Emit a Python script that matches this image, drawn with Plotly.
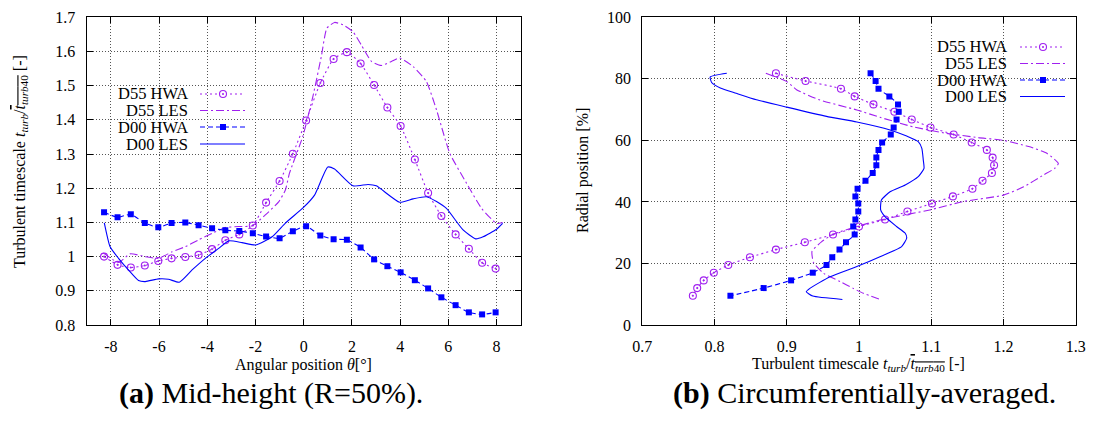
import plotly.graph_objects as go

# ---------------- data: (a) mid-height ----------------
theta_hwa = [-8.28, -7.72, -7.17, -6.59, -6.03, -5.48, -4.91, -4.36, -3.80, -3.25,
             -2.67, -2.11, -1.56, -1.00, -0.45, 0.10, 0.69, 1.24, 1.79, 2.36,
             2.92, 3.47, 4.02, 4.61, 5.16, 5.71, 6.30, 6.85, 7.40, 7.96]
d55_hwa_mid = [1.000, 0.976, 0.968, 0.974, 0.987, 0.995, 0.999, 1.005, 1.022, 1.048,
               1.065, 1.091, 1.158, 1.221, 1.301, 1.398, 1.508, 1.578, 1.598, 1.565,
               1.502, 1.436, 1.382, 1.284, 1.186, 1.119, 1.065, 1.023, 0.982, 0.965]
d00_hwa_mid = [1.130, 1.115, 1.124, 1.098, 1.086, 1.098, 1.100, 1.092, 1.083, 1.077,
               1.075, 1.068, 1.059, 1.054, 1.074, 1.089, 1.062, 1.051, 1.049, 1.027,
               0.992, 0.972, 0.954, 0.931, 0.907, 0.881, 0.858, 0.837, 0.831, 0.837]

theta_les55 = [-8.31, -7.68, -7.20, -6.57, -6.02, -5.46, -4.91, -4.36, -3.80, -3.25,
               -2.70, -2.14, -1.59, -1.03, -0.76, -0.59, -0.04, 0.38, 0.73, 0.96,
               1.28, 1.63, 2.04, 2.39, 2.81, 3.22, 3.64, 3.98, 4.54, 5.09,
               5.51, 6.06, 6.76, 7.38, 8.00, 8.25]
d55_les_mid = [1.011, 0.983, 1.008, 1.000, 0.995, 1.014, 1.029, 1.049, 1.068, 1.085,
               1.088, 1.090, 1.122, 1.161, 1.195, 1.244, 1.351, 1.468, 1.585, 1.668,
               1.685, 1.678, 1.658, 1.619, 1.571, 1.559, 1.571, 1.581, 1.556, 1.512,
               1.429, 1.302, 1.214, 1.141, 1.097, 1.100]

theta_les00 = [-8.27, -8.03, -7.68, -7.27, -6.85, -6.57, -6.02, -5.61, -5.16, -4.63,
               -4.08, -3.53, -3.11, -2.56, -2.00, -1.31, -0.76, -0.02, 0.45, 1.00,
               1.28, 2.04, 2.67, 3.01, 3.98, 4.54, 5.09, 5.51, 5.92, 6.61,
               7.13, 7.44, 8.00, 8.25]
d00_les_mid = [1.099, 1.029, 0.995, 0.961, 0.930, 0.927, 0.935, 0.934, 0.925, 0.961,
               0.995, 1.024, 1.046, 1.041, 1.034, 1.058, 1.098, 1.143, 1.180, 1.262,
               1.256, 1.207, 1.211, 1.207, 1.159, 1.169, 1.175, 1.161, 1.141, 1.078,
               1.052, 1.058, 1.080, 1.097]

# ---------------- data: (b) circumferentially averaged ----------------
radial_hwa = [81.8, 79.3, 76.8, 74.3, 71.7, 69.3, 66.8, 64.2, 61.9, 59.3,
              56.9, 54.4, 51.9, 49.4, 46.9, 44.3, 41.8, 39.5, 36.9, 34.3,
              32.0, 29.4, 26.9, 24.5, 22.0, 19.5, 17.0, 14.5, 12.0, 9.5]
d55_hwa_avg = [0.885, 0.926, 0.975, 0.994, 1.020, 1.049, 1.073, 1.099, 1.131, 1.156,
               1.177, 1.185, 1.187, 1.184, 1.171, 1.157, 1.130, 1.101, 1.067, 1.036,
               1.000, 0.964, 0.925, 0.885, 0.849, 0.819, 0.799, 0.785, 0.776, 0.770]
d00_hwa_avg = [1.016, 1.023, 1.027, 1.042, 1.054, 1.055, 1.052, 1.048, 1.044, 1.032,
               1.027, 1.024, 1.024, 1.019, 1.009, 0.998, 0.995, 0.999, 0.999, 0.995,
               0.992, 0.994, 0.982, 0.973, 0.963, 0.955, 0.936, 0.906, 0.868, 0.822]

radial_les55 = [81.8, 79.1, 76.4, 73.1, 69.9, 67.5, 64.4, 62.3, 60.9, 60.0,
                58.0, 55.8, 52.5, 50.9, 48.7, 44.9, 42.2, 40.1, 37.4, 34.1,
                32.0, 29.5, 27.0, 24.0, 20.3, 16.8, 14.1, 11.9, 10.3, 8.3]
d55_les_avg = [0.871, 0.900, 0.914, 0.946, 0.997, 1.029, 1.075, 1.121, 1.165, 1.200,
               1.235, 1.260, 1.276, 1.271, 1.255, 1.228, 1.200, 1.144, 1.098, 1.029,
               0.997, 0.964, 0.948, 0.935, 0.937, 0.951, 0.974, 0.992, 1.006, 1.029]

radial_les00 = [81.8, 80.6, 78.8, 77.0, 75.3, 73.2, 70.8, 67.8, 66.0, 63.4,
                61.4, 59.6, 57.4, 53.6, 50.9, 48.2, 45.5, 43.3, 40.6, 37.4,
                35.2, 32.0, 29.8, 28.2, 25.5, 22.2, 19.0, 15.7, 11.9, 10.8,
                9.4, 8.3]
d00_les_avg = [0.817, 0.794, 0.796, 0.808, 0.830, 0.858, 0.900, 0.955, 0.997, 1.043,
               1.066, 1.082, 1.087, 1.089, 1.090, 1.082, 1.064, 1.043, 1.031, 1.030,
               1.036, 1.052, 1.064, 1.066, 1.059, 1.029, 0.997, 0.960, 0.932, 0.927,
               0.936, 0.977]

series_names = ["D55 HWA", "D55 LES", "D00 HWA", "D00 LES"]

# ---------------- styling ----------------
W, H = 1096, 428
PURPLE = "#a020f0"
BLUE = "#0000ff"
FONT = "Liberation Serif"

styles = {
    "D55 HWA": dict(color=PURPLE, dash="2px,3px", marker="circle-open-dot"),
    "D55 LES": dict(color=PURPLE, dash="8px,3px,2px,3px", marker=None),
    "D00 HWA": dict(color=BLUE, dash="5px,3px", marker="square"),
    "D00 LES": dict(color=BLUE, dash="solid", marker=None),
}


def trace(x, y, name, xa, ya):
    st = styles[name]
    kw = dict(x=x, y=y, name=name, xaxis=xa, yaxis=ya, showlegend=False,
              line=dict(color=st["color"], dash=st["dash"], width=1.1, shape="spline", smoothing=0.5))
    if st["marker"]:
        kw["mode"] = "lines+markers"
        if st["marker"] == "square":
            kw["marker"] = dict(symbol="square", size=6, color=st["color"])
        else:
            kw["marker"] = dict(symbol="circle-open-dot", size=7, color=st["color"],
                                line=dict(width=1.1, color=st["color"]))
    else:
        kw["mode"] = "lines"
    return go.Scatter(**kw)


fig = go.Figure()
fig.add_trace(trace(theta_hwa, d55_hwa_mid, "D55 HWA", "x", "y"))
fig.add_trace(trace(theta_les55, d55_les_mid, "D55 LES", "x", "y"))
fig.add_trace(trace(theta_hwa, d00_hwa_mid, "D00 HWA", "x", "y"))
fig.add_trace(trace(theta_les00, d00_les_mid, "D00 LES", "x", "y"))

fig.add_trace(trace(d55_hwa_avg, radial_hwa, "D55 HWA", "x2", "y2"))
fig.add_trace(trace(d55_les_avg, radial_les55, "D55 LES", "x2", "y2"))
fig.add_trace(trace(d00_hwa_avg, radial_hwa, "D00 HWA", "x2", "y2"))
fig.add_trace(trace(d00_les_avg, radial_les00, "D00 LES", "x2", "y2"))

ydom = [103 / H, 410.7 / H]
axis_common = dict(
    showline=True, linecolor="black", linewidth=1.3, mirror="ticks",
    ticks="inside", ticklen=6, tickcolor="black", tickwidth=1,
    showgrid=True, gridcolor="#555555", griddash="1px,2px", gridwidth=1,
    zeroline=False, tickfont=dict(family=FONT, size=16, color="black"),
    ticklabelstandoff=7, automargin=False,
)

fig.update_layout(
    width=W, height=H, margin=dict(l=0, r=0, t=0, b=0, autoexpand=False),
    paper_bgcolor="white", plot_bgcolor="white",
    xaxis=dict(domain=[86.7 / W, 520.7 / W], range=[-9, 9], anchor="y",
               tickvals=[-8, -6, -4, -2, 0, 2, 4, 6, 8],
               ticktext=["-8", "-6", "-4", "-2", "0", "2", "4", "6", "8"], **axis_common),
    yaxis=dict(domain=ydom, range=[0.8, 1.7], anchor="x",
               tickvals=[0.8, 0.9, 1.0, 1.1, 1.2, 1.3, 1.4, 1.5, 1.6, 1.7],
               ticktext=["0.8", "0.9", "1", "1.1", "1.2", "1.3", "1.4", "1.5", "1.6", "1.7"],
               **axis_common),
    xaxis2=dict(domain=[642.3 / W, 1075.7 / W], range=[0.7, 1.3], anchor="y2",
                tickvals=[0.7, 0.8, 0.9, 1.0, 1.1, 1.2, 1.3],
                ticktext=["0.7", "0.8", "0.9", "1", "1.1", "1.2", "1.3"], **axis_common),
    yaxis2=dict(domain=ydom, range=[0, 100], anchor="x2",
                tickvals=[0, 20, 40, 60, 80, 100], **axis_common),
    showlegend=False,
)

math = ("<i>t</i><sub><i>turb</i></sub>/"
        "<span style='text-decoration:overline'><i>t</i><sub><i>turb</i>40</sub></span>")


def px(x):
    return x / W


def py(y):
    return 1 - y / H


annots = [
    dict(text="Angular position <i>θ</i>[°]", x=px(303), y=py(365), size=16, angle=0),
    dict(text="Turbulent timescale " + math + " [-]", x=px(858), y=py(364), size=16, angle=0),
    dict(text="Turbulent timescale " + math + " [-]", x=px(20), y=py(162), size=16, angle=-90),
    dict(text="Radial position [%]", x=px(583), y=py(171), size=16, angle=-90),
    dict(text="<b>(a)</b> Mid-height (R=50%).", x=px(271), y=py(393), size=30, angle=0),
    dict(text="<b>(b)</b> Circumferentially-averaged.", x=px(864), y=py(393), size=30, angle=0),
]
for a in annots:
    fig.add_annotation(text=a["text"], x=a["x"], y=a["y"], xref="paper", yref="paper",
                       showarrow=False, textangle=a["angle"], xanchor="center", yanchor="middle",
                       font=dict(family=FONT, size=a["size"], color="black"))

# ---------------- manual gnuplot-style legends ----------------
legends = [
    dict(text_right=190, x0=200, x1=245, xm=223, rows=[94, 110.5, 127, 144]),
    dict(text_right=1009, x0=1020, x1=1065, xm=1043, rows=[47, 63.5, 80, 96.5]),
]
for lg in legends:
    for name, ry in zip(series_names, lg["rows"]):
        st = styles[name]
        fig.add_annotation(text=name, x=px(lg["text_right"]), y=py(ry), xref="paper", yref="paper",
                           showarrow=False, xanchor="right", yanchor="middle",
                           font=dict(family=FONT, size=16.5, color="black"))
        fig.add_shape(type="line", xref="paper", yref="paper",
                      x0=px(lg["x0"]), x1=px(lg["x1"]), y0=py(ry), y1=py(ry),
                      line=dict(color=st["color"], dash=st["dash"], width=1.2))
        if st["marker"] == "square":
            fig.add_shape(type="rect", xref="paper", yref="paper",
                          x0=px(lg["xm"] - 3), x1=px(lg["xm"] + 3),
                          y0=py(ry + 3), y1=py(ry - 3),
                          line=dict(width=0), fillcolor=st["color"])
        elif st["marker"] == "circle-open-dot":
            fig.add_shape(type="circle", xref="paper", yref="paper",
                          x0=px(lg["xm"] - 3.5), x1=px(lg["xm"] + 3.5),
                          y0=py(ry + 3.5), y1=py(ry - 3.5),
                          line=dict(width=1.1, color=st["color"]), fillcolor="white")
            fig.add_shape(type="circle", xref="paper", yref="paper",
                          x0=px(lg["xm"] - 1), x1=px(lg["xm"] + 1),
                          y0=py(ry + 1), y1=py(ry - 1),
                          line=dict(width=0), fillcolor=st["color"])

fig.write_html(
    "out.html",
    config={"displayModeBar": False},
    post_script="document.body.style.margin='0';document.body.style.padding='0';"
                "document.body.style.overflow='hidden';",
)
